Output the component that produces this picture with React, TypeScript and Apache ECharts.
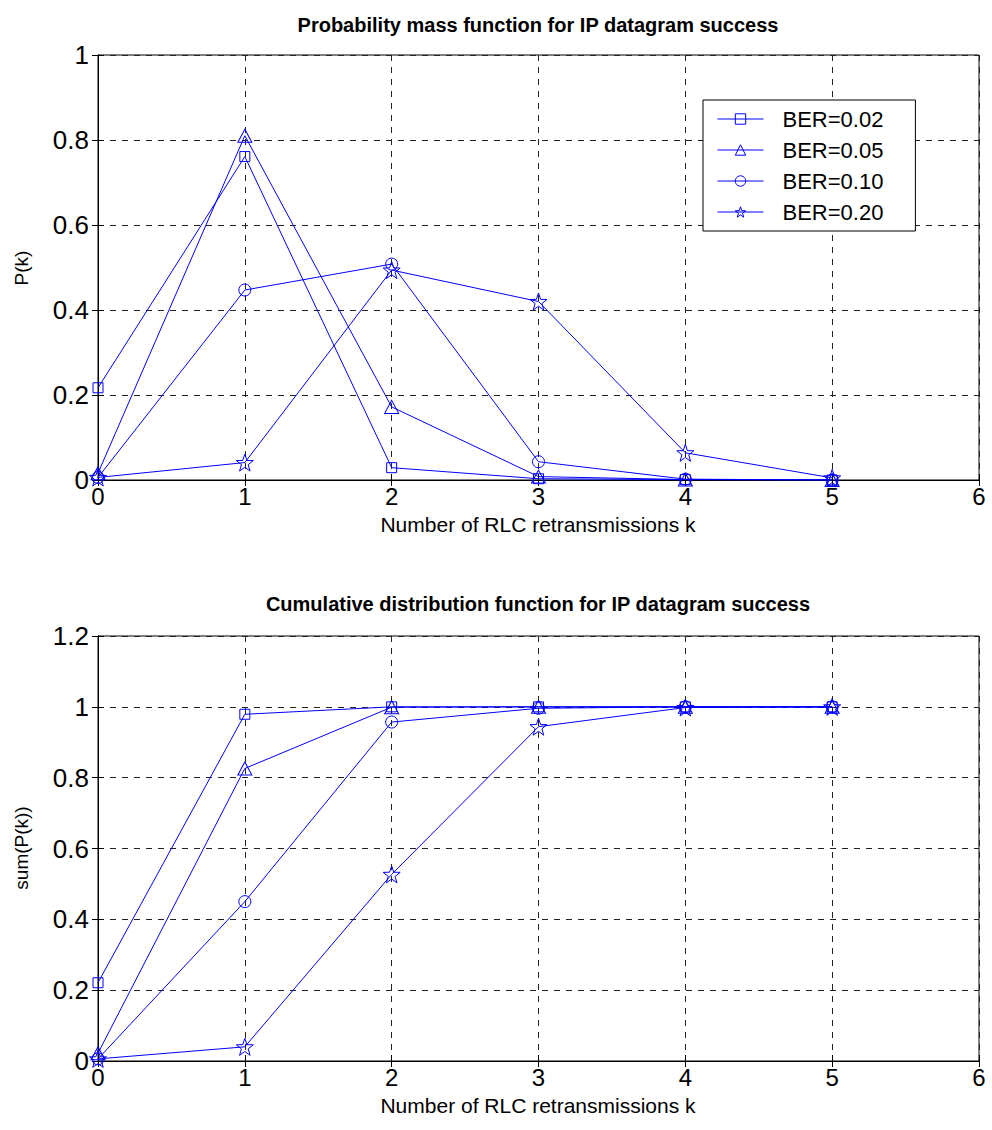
import React, { useEffect, useRef } from "react";
import * as echarts from "echarts";

const FONT = "'Liberation Sans', Arial, Helvetica, sans-serif";
const BLUE = "#0000ff";

const kValues = [0, 1, 2, 3, 4, 5];
const seriesNames = ["BER=0.02", "BER=0.05", "BER=0.10", "BER=0.20"];

// Probability mass function values
const pmf002 = [0.217, 0.761, 0.029, 0.003, 0.001, 0.0];
const pmf005 = [0.016, 0.81, 0.172, 0.008, 0.001, 0.0];
const pmf010 = [0.006, 0.447, 0.508, 0.043, 0.002, 0.0];
const pmf020 = [0.006, 0.041, 0.494, 0.42, 0.064, 0.005];

// Cumulative distribution values
const cdf002 = [0.221, 0.979, 1.0, 1.0, 1.0, 1.0];
const cdf005 = [0.022, 0.826, 0.999, 1.0, 1.0, 1.0];
const cdf010 = [0.006, 0.45, 0.957, 0.996, 1.0, 1.0];
const cdf020 = [0.006, 0.04, 0.527, 0.944, 0.998, 1.0];

const xTicks = [0, 1, 2, 3, 4, 5, 6];

const STAR =
  "path://M0,-10 L2.35,-3.24 L9.51,-3.09 L3.80,1.24 L5.88,8.09 L0,4 L-5.88,8.09 L-3.80,1.24 L-9.51,-3.09 L-2.35,-3.24 Z";

const markers: [string, number | number[]][] = [
  ["rect", 10],
  ["triangle", [14, 13]],
  ["circle", 12],
  [STAR, 17],
];

const HOLLOW = "rgba(255,255,255,0)";

function mkSeries(name: string, vals: number[], idx: number, grid: number) {
  const [sym, size] = markers[idx];
  return {
    name,
    type: "line",
    xAxisIndex: grid,
    yAxisIndex: grid,
    data: kValues.map((k, i) => [k, vals[i]]),
    symbol: sym,
    symbolSize: size,
    showAllSymbol: true,
    itemStyle: { color: HOLLOW, borderColor: BLUE, borderWidth: 1 },
    lineStyle: { color: BLUE, width: 1 },
    emphasis: { disabled: true },
  };
}

function mainX(grid: number) {
  return {
    type: "value",
    gridIndex: grid,
    min: 0,
    max: 6,
    interval: 1,
    axisLine: { show: true, lineStyle: { color: "#000", width: 1 } },
    axisTick: { show: true, inside: true, length: 6, lineStyle: { color: "#000" } },
    axisLabel: {
      fontSize: 24,
      color: "#000",
      fontFamily: FONT,
      margin: 4,
      formatter: (v: number) => String(xTicks[Math.round(v)] ?? v),
    },
    splitLine: { show: true, lineStyle: { color: "#222", type: [6, 6], width: 1 } },
  };
}

function topX(grid: number) {
  return {
    type: "value",
    gridIndex: grid,
    position: "top",
    min: 0,
    max: 6,
    interval: 1,
    axisLine: { show: true, lineStyle: { color: "#000", width: 1 } },
    axisTick: { show: true, inside: true, length: 6, lineStyle: { color: "#000" } },
    axisLabel: { show: false },
    splitLine: { show: false },
  };
}

function mainY(grid: number, max: number) {
  return {
    type: "value",
    gridIndex: grid,
    min: 0,
    max,
    interval: 0.2,
    axisLine: { show: true, lineStyle: { color: "#000", width: 1 } },
    axisTick: { show: true, inside: true, length: 6, lineStyle: { color: "#000" } },
    axisLabel: {
      fontSize: 26,
      color: "#000",
      fontFamily: FONT,
      margin: 9,
      formatter: (v: number) => String(Math.round(v * 10) / 10),
    },
    splitLine: { show: true, lineStyle: { color: "#222", type: [6, 6], width: 1 } },
  };
}

function rightY(grid: number, max: number) {
  return {
    type: "value",
    gridIndex: grid,
    position: "right",
    min: 0,
    max,
    interval: 0.2,
    axisLine: { show: true, lineStyle: { color: "#000", width: 1 } },
    axisTick: { show: true, inside: true, length: 6, lineStyle: { color: "#000" } },
    axisLabel: { show: false },
    splitLine: { show: false },
  };
}

function textEl(text: string, x: number, y: number, size: number, bold: boolean, rot = 0) {
  return {
    type: "text",
    x,
    y,
    rotation: rot,
    silent: true,
    style: {
      text,
      align: "center",
      verticalAlign: "middle",
      textAlign: "center",
      textVerticalAlign: "middle",
      fontSize: size,
      fontWeight: bold ? "bold" : "normal",
      fontFamily: FONT,
      fill: "#000",
    },
  };
}

export default function App() {
  const ref = useRef<HTMLDivElement>(null);
  useEffect(() => {
    if (!ref.current) return;
    const chart = echarts.init(ref.current, undefined, { renderer: "svg" });
    const pmfs = [pmf002, pmf005, pmf010, pmf020];
    const cdfs = [cdf002, cdf005, cdf010, cdf020];
    chart.setOption({
      animation: false,
      backgroundColor: "#fff",
      grid: [
        { left: 98, top: 55, width: 881, height: 425, show: true, borderColor: "#000", borderWidth: 1 },
        { left: 98, top: 636, width: 881, height: 425, show: true, borderColor: "#000", borderWidth: 1 },
      ],
      xAxis: [mainX(0), mainX(1), topX(0), topX(1)],
      yAxis: [mainY(0, 1), mainY(1, 1.2), rightY(0, 1), rightY(1, 1.2)],
      legend: {
        show: true,
        data: seriesNames,
        orient: "vertical",
        left: 703,
        top: 100,
        padding: [8, 32, 8, 14],
        itemWidth: 46,
        itemHeight: 13,
        itemGap: 9,
        selectedMode: false,
        backgroundColor: "#fff",
        borderColor: "#000",
        borderWidth: 1,
        itemStyle: { color: HOLLOW, borderColor: BLUE, borderWidth: 1 },
        lineStyle: { color: BLUE, width: 1 },
        textStyle: { fontSize: 22, color: "#000", fontFamily: FONT, padding: [0, 0, 0, 14] },
        z: 10,
      },
      graphic: [
        textEl("Probability mass function for IP datagram success", 538, 25, 20, true),
        textEl("Cumulative distribution function for IP datagram success", 538, 604, 20, true),
        textEl("Number of RLC retransmissions k", 538, 524, 21, false),
        textEl("Number of RLC retransmissions k", 538, 1105, 21, false),
        textEl("P(k)", 21, 268, 19, false, Math.PI / 2),
        textEl("sum(P(k))", 21, 848, 19, false, Math.PI / 2),
      ],
      series: [
        ...pmfs.map((v, i) => mkSeries(seriesNames[i], v, i, 0)),
        ...cdfs.map((v, i) => mkSeries(seriesNames[i], v, i, 1)),
      ],
    });
    return () => chart.dispose();
  }, []);
  return (
    <div
      ref={ref}
      style={{ position: "absolute", left: 0, top: 0, width: 992, height: 1130 }}
    />
  );
}
